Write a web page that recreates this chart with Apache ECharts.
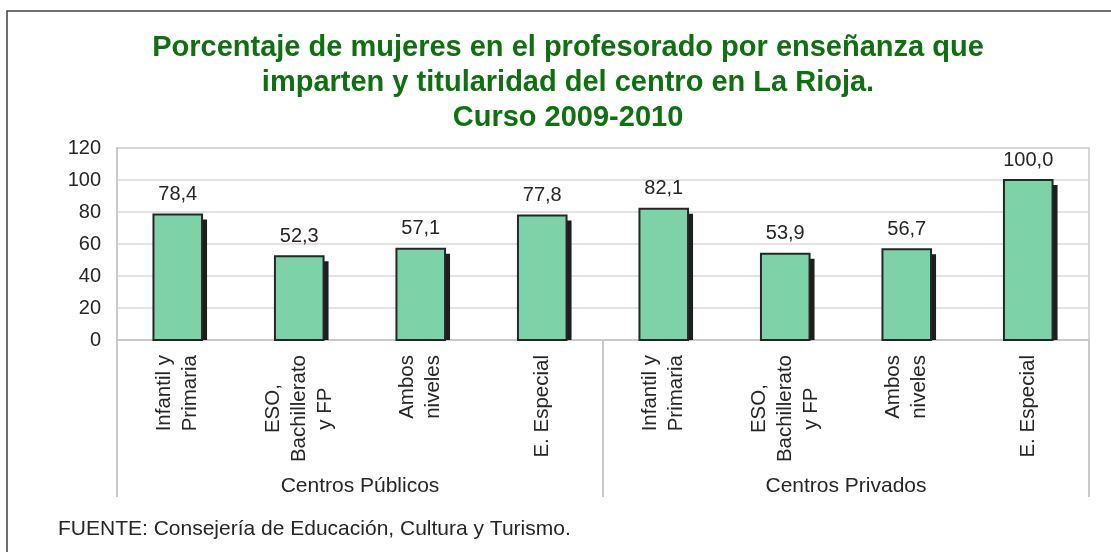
<!DOCTYPE html>
<html>
<head>
<meta charset="utf-8">
<script src="https://cdn.jsdelivr.net/npm/echarts@6/dist/echarts.min.js"></script>
<style>
  html, body { margin: 0; padding: 0; background: #fff; }
  #chart { width: 1111px; height: 552px; }
</style>
</head>
<body>
<div id="chart"></div>
<script>
const titleText = 'Porcentaje de mujeres en el profesorado por enseñanza que\nimparten y titularidad del centro en La Rioja.\nCurso 2009-2010'
const categories = [
  'Infantil y\nPrimaria', 'ESO,\nBachillerato\ny FP', 'Ambos\nniveles', 'E. Especial',
  'Infantil y\nPrimaria', 'ESO,\nBachillerato\ny FP', 'Ambos\nniveles', 'E. Especial'
]
const groups = ['Centros Públicos', 'Centros Privados']
const values = [78.4, 52.3, 57.1, 77.8, 82.1, 53.9, 56.7, 100.0]
const source = 'FUENTE: Consejería de Educación, Cultura y Turismo.'

const font = "'Liberation Sans', Arial, sans-serif"
const textColor = '#262626'
const lineColor = '#c9c9c9'

const chart = echarts.init(document.getElementById('chart'))

chart.setOption({
  animation: false,
  textStyle: { fontFamily: font },
  title: {
    text: titleText,
    left: 563,
    top: 25,
    textAlign: 'center',
    textStyle: {
      color: '#0e700e',
      fontSize: 29,
      fontWeight: 'bold',
      lineHeight: 35,
      fontFamily: font
    }
  },
  grid: {
    left: 117,
    right: 22,
    top: 148,
    bottom: 212,
    show: true,
    borderColor: lineColor,
    borderWidth: 1.5
  },
  xAxis: [
    {
      type: 'category',
      data: categories,
      axisLine: { lineStyle: { color: lineColor, width: 2 } },
      axisTick: { show: false },
      axisLabel: {
        interval: 0,
        rotate: 90,
        margin: 15,
        color: textColor,
        fontSize: 20.5,
        lineHeight: 26,
        formatter: v => v.split('\n').map(l => '{c|' + l + '}').join('\n'),
        rich: {
          c: { align: 'center', fontSize: 20.5, lineHeight: 26, color: textColor, fontFamily: font }
        }
      }
    },
    {
      type: 'category',
      data: groups,
      position: 'bottom',
      axisLine: { show: false },
      axisTick: {
        show: true,
        interval: 0,
        length: 157,
        lineStyle: { color: lineColor, width: 2 }
      },
      axisLabel: {
        margin: 136,
        color: textColor,
        fontSize: 21
      }
    }
  ],
  yAxis: {
    type: 'value',
    min: 0,
    max: 120,
    interval: 20,
    axisLine: { show: true, lineStyle: { color: lineColor, width: 2 } },
    axisTick: { show: false },
    axisLabel: { margin: 16, color: textColor, fontSize: 20 },
    splitLine: { lineStyle: { color: '#d9d9d9', width: 1.5 } }
  },
  graphic: [
    {
      type: 'rect',
      shape: { x: 7, y: 11, width: 1200, height: 600 },
      style: { fill: 'none', stroke: '#404040', lineWidth: 1.5 },
      silent: true
    },
    {
      type: 'text',
      left: 58,
      top: 519,
      style: { text: source, fill: textColor, font: '21px ' + font }
    }
  ],
  series: [
    {
      type: 'custom',
      xAxisIndex: 0,
      data: values.map((v, i) => [i, v]),
      renderItem(params, api) {
        const top = api.coord([api.value(0), api.value(1)])
        const base = api.coord([api.value(0), 0])
        const w = api.size([1, 0])[0] * 0.4
        const h = base[1] - top[1]
        const label = api.value(1).toFixed(1).replace('.', ',')
        return {
          type: 'group',
          children: [
            {
              type: 'rect',
              shape: { x: top[0] - w / 2 + 5, y: top[1] + 5, width: w, height: h - 5 },
              style: { fill: '#1e1e1e' }
            },
            {
              type: 'rect',
              shape: { x: top[0] - w / 2, y: top[1], width: w, height: h },
              style: { fill: '#7dd3a7', stroke: '#262626', lineWidth: 2 },
              textContent: {
                style: { text: label, fill: textColor, font: '20px ' + font }
              },
              textConfig: { position: 'top', distance: 9 }
            }
          ]
        }
      }
    }
  ]
})
</script>
</body>
</html>
